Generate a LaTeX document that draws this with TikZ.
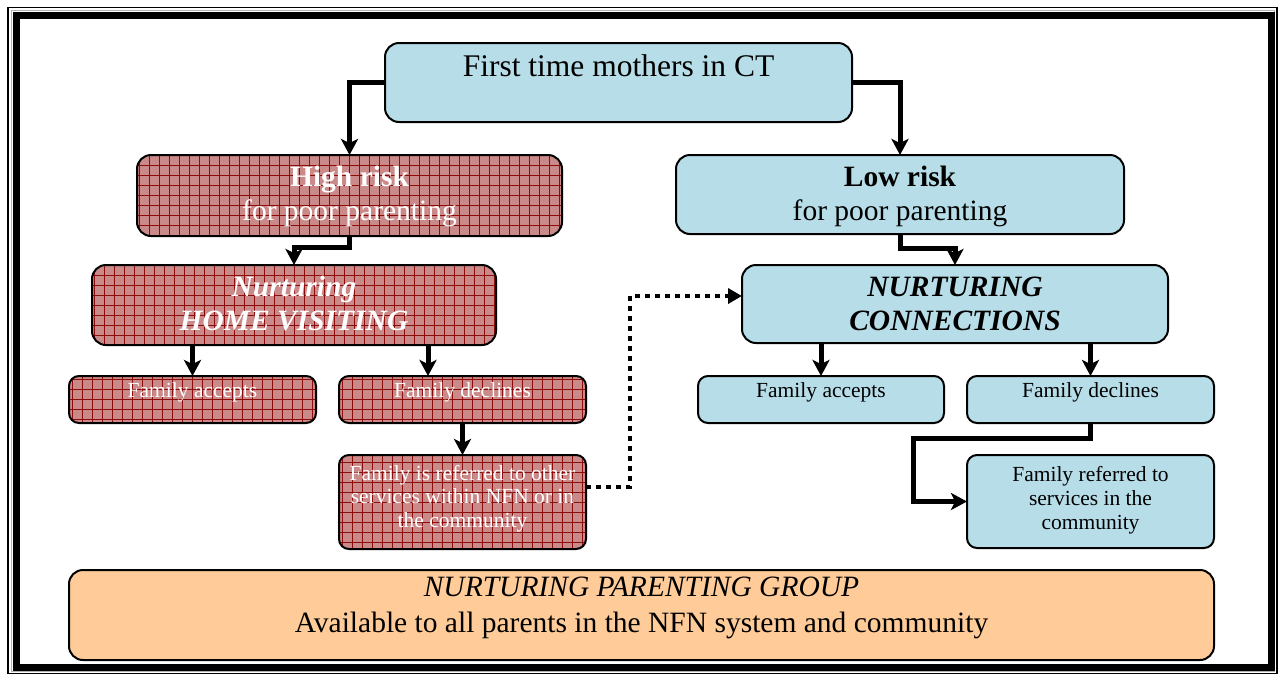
\documentclass[tikz,border=0pt]{standalone}
\usepackage{fontspec}
\setmainfont{Liberation Serif}
\usetikzlibrary{arrows.meta,calc}
\definecolor{cyanfill}{RGB}{183,222,232}
\definecolor{peach}{RGB}{255,204,153}
\definecolor{redbase}{RGB}{203,138,138}
\definecolor{redgrid}{RGB}{140,12,12}
\tikzset{
  box/.style={draw=black, line width=2pt, rounded corners=14pt, inner sep=0pt, outer sep=0pt},
  sbox/.style={box, rounded corners=10pt},
  cyanbox/.style={fill=cyanfill},
  redbox/.style={fill=redbase, path picture={\draw[redgrid, line width=0.8pt, step=10pt, sharp corners]
      (path picture bounding box.south west) grid (path picture bounding box.north east);}},
  peachbox/.style={fill=peach},
  big/.style={font=\fontsize{29.5}{34}\selectfont},
  huge/.style={font=\fontsize{31.5}{36}\selectfont},
  small/.style={font=\fontsize{21.5}{24}\selectfont},
  txt/.style={anchor=base, inner sep=0pt},
  arr/.style={line width=5pt, -{Stealth[width=17pt,length=16pt,inset=4pt]}},
  dotarr/.style={line width=4.5pt, dash pattern=on 5pt off 5pt, -{Triangle[width=15pt,length=14pt]}}
}
\begin{document}
\begin{tikzpicture}[x=1pt,y=-1pt]
\useasboundingbox (0,0) rectangle (1278,673);
\fill[white] (0,0) rectangle (1278,673);
% frame
\draw[black, line width=1.3pt] (8,7.5) rectangle (1277,673.5);
\draw[gray!60, line width=1pt] (11,10.5) rectangle (1274.5,671);
\draw[black, line width=6.5pt] (16.5,15.5) rectangle (1271.5,667.5);

% boxes
\node[box, cyanbox, minimum width=467pt, minimum height=79pt] (ft) at (618.5,82.5) {};
\node[box, redbox, minimum width=425pt, minimum height=81pt] (hr) at (349.5,195.5) {};
\node[box, cyanbox, minimum width=448pt, minimum height=79pt] (lr) at (900,194.5) {};
\node[box, redbox, minimum width=404pt, minimum height=80pt] (hv) at (294,305) {};
\node[box, cyanbox, minimum width=426pt, minimum height=78pt] (nc) at (955,304) {};
\node[sbox, redbox, minimum width=247pt, minimum height=47pt] (fa1) at (192.5,399.5) {};
\node[sbox, redbox, minimum width=247pt, minimum height=47pt] (fd1) at (462.5,399.5) {};
\node[sbox, redbox, minimum width=247pt, minimum height=94pt] (fr1) at (462.5,502) {};
\node[sbox, cyanbox, minimum width=246pt, minimum height=47pt] (fa2) at (821,399.5) {};
\node[sbox, cyanbox, minimum width=247pt, minimum height=47pt] (fd2) at (1090.5,399.5) {};
\node[sbox, cyanbox, minimum width=247pt, minimum height=93pt] (fr2) at (1090.5,501.5) {};
\node[box, peachbox, minimum width=1145pt, minimum height=90pt] (npg) at (641.5,615) {};

% texts
\node[txt, huge] (ft-t) at (618.5,76) {First time mothers in CT};
\node[txt, big, white] (hr-t1) at (349.5,186) {\textbf{High risk}};
\node[txt, big, white] (hr-t2) at (349.5,220) {for poor parenting};
\node[txt, big] (lr-t1) at (900,186) {\textbf{Low risk}};
\node[txt, big] (lr-t2) at (900,220) {for poor parenting};
\node[txt, big, white] (hv-t1) at (294,296) {\textbf{\textit{Nurturing}}};
\node[txt, big, white] (hv-t2) at (294,330) {\textbf{\textit{HOME VISITING}}};
\node[txt, big] (nc-t1) at (955,296) {\textbf{\textit{NURTURING}}};
\node[txt, big] (nc-t2) at (955,330) {\textbf{\textit{CONNECTIONS}}};
\node[txt, small, white] (fa1-t) at (192.5,397) {Family accepts};
\node[txt, small, white] (fd1-t) at (462.5,397) {Family declines};
\node[txt, small, white] (fr1-t1) at (462.5,480) {Family is referred to other};
\node[txt, small, white] (fr1-t2) at (462.5,503.5) {services within NFN or in};
\node[txt, small, white] (fr1-t3) at (462.5,527) {the community};
\node[txt, small] (fa2-t) at (821,397) {Family accepts};
\node[txt, small] (fd2-t) at (1090.5,397) {Family declines};
\node[txt, small] (fr2-t1) at (1090.5,481) {Family referred to};
\node[txt, small] (fr2-t2) at (1090.5,505) {services in the};
\node[txt, small] (fr2-t3) at (1090.5,529) {community};
\node[txt, big] (npg-t1) at (641.5,596) {\textit{NURTURING PARENTING GROUP}};
\node[txt, big] (npg-t2) at (641.5,632) {Available to all parents in the NFN system and community};

% connectors
\coordinate (c6) at (428,0);
\coordinate (c10a) at (630,487);
\coordinate (c10b) at (630,296);
\coordinate (c11) at (913,438);
\draw[arr] (ft.west) -| (hr.north);
\draw[arr] (ft.east) -| (lr.north);
\draw[arr] (hr.south) -- ++(0,11) -| (hv.north);
\draw[arr] (lr.south) -- ++(0,14) -| (nc.north);
\draw[arr] (hv.south -| fa1.north) -- (fa1.north);
\draw[arr] (hv.south -| c6) -- (fd1.north -| c6);
\draw[arr] (nc.south -| fa2.north) -- (fa2.north);
\draw[arr] (nc.south -| fd2.north) -- (fd2.north);
\draw[arr] (fd1.south) -- (fr1.north);
\draw[dotarr] (fr1.east |- c10a) -- (c10a) -- (c10b) -- (nc.west |- c10b);
\draw[arr] (fd2.south) |- (c11) |- (fr2.west);
\end{tikzpicture}
\end{document}
